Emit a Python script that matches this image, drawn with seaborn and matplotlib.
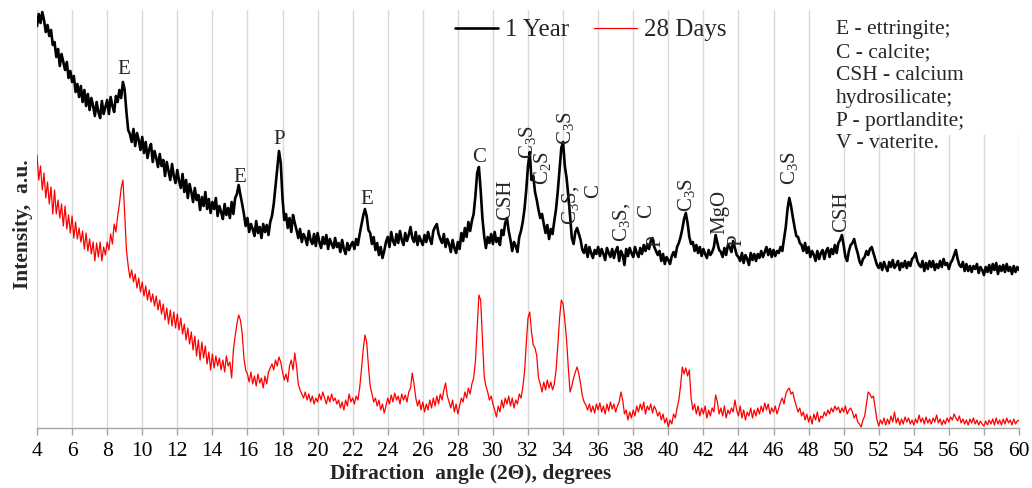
import numpy as np
import pandas as pd
import matplotlib
matplotlib.use("Agg")
import matplotlib.pyplot as plt
from matplotlib.patches import Rectangle
import seaborn as sns

# 2-theta scan grid (degrees), step 0.1
angle = np.linspace(4, 60, 561)

# 1 Year intensities (a.u.), 10 values per degree
year1_rows = [
    [402, 414, 405, 416, 408, 396, 403, 392, 398, 383],  # 4
    [386, 371, 379, 362, 374, 366, 358, 366, 350, 357],  # 5
    [346, 352, 336, 344, 331, 342, 326, 338, 322, 334],  # 6
    [318, 330, 322, 312, 326, 316, 310, 327, 314, 321],  # 7
    [328, 314, 331, 322, 316, 332, 326, 338, 330, 346],  # 8
    [338, 316, 298, 294, 286, 299, 282, 295, 288, 278],  # 9
    [291, 275, 286, 270, 279, 284, 266, 277, 270, 261],  # 10
    [274, 262, 268, 252, 266, 257, 248, 264, 252, 245],  # 11
    [258, 247, 240, 254, 236, 248, 230, 244, 236, 226],  # 12
    [240, 228, 233, 218, 231, 222, 236, 219, 229, 215],  # 13
    [226, 219, 230, 212, 222, 216, 209, 224, 213, 220],  # 14
    [210, 226, 214, 230, 234, 243, 233, 224, 214, 202],  # 15
    [210, 196, 204, 199, 192, 207, 195, 201, 190, 204],  # 16
    [196, 203, 193, 206, 212, 224, 242, 260, 277, 265],  # 17
    [230, 208, 214, 200, 210, 196, 213, 205, 198, 190],  # 18
    [199, 186, 194, 190, 183, 197, 188, 184, 194, 182],  # 19
    [195, 186, 180, 191, 184, 193, 179, 189, 184, 180],  # 20
    [190, 181, 185, 176, 188, 179, 174, 185, 178, 183],  # 21
    [186, 179, 189, 183, 194, 203, 212, 219, 212, 198],  # 22
    [195, 184, 191, 178, 185, 173, 181, 170, 177, 186],  # 23
    [191, 181, 196, 187, 183, 194, 185, 197, 188, 183],  # 24
    [195, 187, 193, 201, 190, 186, 196, 183, 192, 187],  # 25
    [183, 193, 186, 196, 189, 184, 197, 201, 204, 194],  # 26
    [189, 185, 194, 181, 189, 184, 176, 188, 180, 175],  # 27
    [186, 179, 195, 187, 200, 191, 206, 197, 207, 214],  # 28
    [232, 255, 261, 238, 210, 192, 180, 191, 185, 194],  # 29
    [184, 196, 186, 190, 183, 198, 193, 205, 210, 197],  # 30
    [188, 177, 186, 182, 176, 191, 197, 206, 219, 238],  # 31
    [262, 276, 248, 252, 236, 228, 218, 210, 214, 204],  # 32
    [195, 203, 189, 199, 194, 207, 219, 237, 259, 280],  # 33
    [286, 262, 250, 232, 212, 190, 184, 196, 200, 194],  # 34
    [188, 178, 175, 183, 171, 181, 175, 170, 178, 174],  # 35
    [181, 172, 179, 174, 168, 180, 175, 171, 179, 170],  # 36
    [177, 181, 167, 177, 173, 163, 179, 172, 180, 175],  # 37
    [171, 181, 175, 171, 180, 174, 183, 177, 184, 179],  # 38
    [187, 190, 181, 177, 173, 177, 167, 174, 164, 171],  # 39
    [168, 164, 172, 176, 171, 181, 185, 191, 199, 209],  # 40
    [215, 205, 191, 184, 186, 177, 183, 175, 181, 172],  # 41
    [179, 174, 170, 178, 173, 176, 181, 193, 185, 178],  # 42
    [176, 171, 180, 173, 183, 181, 176, 187, 180, 173],  # 43
    [171, 167, 175, 165, 173, 169, 163, 175, 168, 174],  # 44
    [167, 174, 170, 177, 171, 176, 181, 173, 179, 171],  # 45
    [178, 172, 177, 175, 181, 177, 189, 201, 219, 230],  # 46
    [222, 211, 201, 192, 191, 185, 183, 177, 185, 175],  # 47
    [181, 171, 177, 173, 167, 177, 169, 175, 178, 169],  # 48
    [177, 180, 171, 179, 174, 183, 175, 185, 188, 193],  # 49
    [183, 171, 167, 177, 183, 185, 189, 181, 175, 167],  # 50
    [163, 169, 171, 177, 173, 179, 181, 175, 169, 163],  # 51
    [160, 165, 158, 166, 161, 157, 166, 161, 168, 160],  # 52
    [163, 167, 158, 165, 161, 167, 160, 166, 162, 169],  # 53
    [171, 175, 167, 163, 161, 167, 157, 165, 159, 167],  # 54
    [161, 167, 158, 164, 160, 167, 161, 169, 163, 165],  # 55
    [159, 165, 168, 173, 178, 169, 163, 161, 166, 157],  # 56
    [164, 157, 162, 156, 162, 159, 164, 155, 161, 158],  # 57
    [153, 161, 156, 163, 155, 164, 158, 165, 154, 162],  # 58
    [157, 163, 156, 164, 157, 161, 154, 162, 156, 161],  # 59
    [158],                                               # 60
]

# 28 Days intensities (a.u.), 10 values per degree
days28_rows = [
    [273, 248, 262, 238, 255, 230, 246, 224, 241, 214],  # 4
    [238, 214, 228, 210, 224, 202, 222, 199, 213, 195],  # 5
    [212, 190, 206, 189, 200, 186, 197, 179, 195, 177],  # 6
    [189, 174, 186, 167, 185, 171, 186, 167, 181, 173],  # 7
    [186, 178, 194, 184, 204, 196, 212, 224, 240, 248],  # 8
    [215, 178, 162, 150, 158, 146, 154, 140, 150, 136],  # 9
    [146, 132, 142, 128, 138, 126, 134, 122, 132, 118],  # 10
    [128, 114, 124, 108, 120, 104, 118, 102, 116, 100],  # 11
    [114, 98, 110, 94, 104, 88, 100, 84, 96, 78],        # 12
    [92, 72, 88, 68, 86, 70, 82, 64, 76, 58],            # 13
    [74, 60, 72, 62, 70, 58, 68, 56, 72, 62],            # 14
    [66, 50, 78, 92, 104, 113, 108, 95, 70, 58],         # 15
    [54, 46, 56, 44, 52, 42, 54, 45, 50, 40],            # 16
    [52, 44, 56, 60, 64, 58, 68, 62, 71, 66],            # 17
    [56, 48, 54, 46, 62, 68, 58, 75, 62, 44],            # 18
    [38, 34, 30, 36, 28, 34, 26, 32, 24, 30],            # 19
    [26, 34, 28, 36, 30, 24, 32, 26, 34, 27],            # 20
    [30, 24, 28, 20, 26, 18, 28, 22, 34, 26],            # 21
    [30, 24, 32, 28, 40, 58, 78, 93, 86, 62],            # 22
    [42, 34, 26, 30, 22, 28, 18, 24, 15, 22],            # 23
    [30, 24, 33, 26, 35, 28, 32, 24, 34, 28],            # 24
    [33, 26, 36, 40, 55, 44, 30, 22, 28, 18],            # 25
    [26, 16, 24, 18, 28, 20, 30, 22, 32, 24],            # 26
    [34, 28, 38, 45, 32, 26, 20, 28, 16, 24],            # 27
    [14, 22, 30, 26, 36, 30, 40, 34, 44, 50],            # 28
    [66, 100, 133, 128, 90, 52, 42, 36, 28, 32],         # 29
    [24, 18, 11, 22, 16, 28, 20, 30, 24, 32],            # 30
    [22, 30, 20, 28, 24, 34, 30, 40, 56, 84],            # 31
    [110, 116, 96, 83, 80, 72, 50, 44, 36, 46],          # 32
    [38, 48, 40, 46, 38, 44, 58, 82, 110, 128],          # 33
    [124, 108, 88, 60, 36, 42, 50, 56, 61, 54],          # 34
    [44, 32, 26, 23, 18, 24, 16, 22, 15, 24],            # 35
    [18, 25, 16, 22, 14, 24, 17, 26, 19, 24],            # 36
    [16, 22, 26, 36, 28, 14, 18, 8, 16, 10],             # 37
    [18, 12, 22, 16, 24, 18, 26, 14, 22, 18],            # 38
    [24, 15, 22, 18, 12, 16, 8, 14, 5, 10],              # 39
    [1, 8, 4, 14, 10, 20, 28, 42, 61, 54],               # 40
    [60, 52, 58, 30, 18, 24, 14, 22, 12, 20],            # 41
    [14, 22, 10, 18, 12, 20, 16, 33, 26, 14],            # 42
    [20, 12, 22, 10, 18, 14, 20, 16, 28, 18],            # 43
    [12, 22, 10, 18, 8, 16, 12, 20, 10, 18],             # 44
    [12, 20, 14, 22, 16, 25, 18, 24, 14, 20],            # 45
    [16, 22, 14, 20, 26, 30, 24, 34, 38, 40],            # 46
    [34, 36, 28, 22, 16, 20, 12, 16, 8, 14],             # 47
    [6, 12, 4, 14, 8, 16, 6, 12, 10, 16],                # 48
    [12, 18, 14, 20, 16, 22, 18, 21, 15, 20],            # 49
    [16, 22, 14, 18, 20, 16, 10, 14, 6, 4],              # 50
    [1, 8, 12, 24, 36, 34, 30, 32, 20, 8],               # 51
    [2, 8, 4, 10, 3, 9, 4, 12, 6, 16],                   # 52
    [5, 10, 3, 9, 4, 11, 6, 10, 4, 8],                   # 53
    [3, 9, 5, 13, 6, 10, 4, 11, 5, 9],                   # 54
    [4, 10, 6, 13, 5, 9, 3, 8, 4, 10],                   # 55
    [6, 11, 8, 14, 10, 7, 12, 5, 9, 4],                  # 56
    [8, 3, 9, 5, 10, 4, 8, 3, 7, 4],                     # 57
    [2, 7, 3, 8, 4, 9, 3, 10, 4, 8],                     # 58
    [3, 9, 4, 10, 5, 8, 3, 9, 4, 7],                     # 59
    [8],                                                 # 60
]

year1 = [v for row in year1_rows for v in row]
days28 = [v for row in days28_rows for v in row]

series_names = ["1 Year", "28 Days"]
xticks = list(range(4, 61, 2))

# peak labels: text, angle, intensity, rotation
peak_text = ["E", "E", "P", "E", "C", "CSH", "C$_\\mathrm{3}$S", "C$_\\mathrm{2}$S",
             "C$_\\mathrm{3}$S", "C$_\\mathrm{3}$S,", "C", "C$_\\mathrm{3}$S,", "C", "P",
             "C$_\\mathrm{3}$S", "MgO", "P", "C$_\\mathrm{3}$S", "CSH"]
peak_x = [8.96, 15.57, 17.8, 22.8, 29.2, 30.74, 32.0, 32.85,
          34.15, 34.4, 35.76, 37.35, 38.78, 39.3,
          41.06, 42.94, 43.9, 46.93, 49.9]
peak_y = [358, 250, 289, 228, 271, 228, 286, 260,
          300, 223, 237, 206, 217, 187,
          233, 216, 188, 260, 216]
peak_rot = [0, 0, 0, 0, 0, 90, 90, 90, 90, 90, 90, 90, 90, 90, 90, 90, 90, 90, 90]

note = ("E - ettringite;\nC - calcite;\nCSH - calcium\nhydrosilicate;\n"
        "P - portlandite;\nV - vaterite.")

sns.set_style("white")
plt.rcParams["font.family"] = ["Liberation Serif", "DejaVu Serif"]
plt.rcParams["mathtext.fontset"] = "custom"
plt.rcParams["mathtext.rm"] = "Liberation Serif"
plt.rcParams["mathtext.it"] = "Liberation Serif:italic"
plt.rcParams["mathtext.bf"] = "Liberation Serif:bold"

df = pd.DataFrame({
    "angle": np.concatenate([angle, angle]),
    "intensity": year1 + days28,
    "series": [series_names[0]] * len(year1) + [series_names[1]] * len(days28),
})

fig = plt.figure(figsize=(10.32, 4.88), dpi=100)
ax = fig.add_axes([37 / 1032, 60 / 488, 982 / 1032, 418 / 488])

sns.lineplot(data=df, x="angle", y="intensity", hue="series",
             palette={"1 Year": "#000000", "28 Days": "#ff0000"},
             estimator=None, sort=False, ax=ax, zorder=3)
for line, lw in zip(ax.get_lines(), [1.9, 0.9]):
    line.set_linewidth(lw)

ax.set_xlim(4, 60)
ax.set_ylim(0, 418)
ax.set_xticks(xticks)
ax.set_yticks([])
ax.set_axisbelow(True)
ax.grid(axis="x", color="#d9d9d9", linewidth=1.0)
ax.grid(axis="y", visible=False)
for s in ["top", "right", "left"]:
    ax.spines[s].set_visible(False)
ax.spines["bottom"].set_color("#a6a6a6")
ax.spines["bottom"].set_linewidth(1.0)
ax.tick_params(axis="x", direction="out", length=5, width=1.0, color="#a6a6a6",
               pad=5, labelsize=15.5, labelcolor="black", bottom=True)

# white box behind the abbreviation note
ax.add_patch(Rectangle((0.81, 0.70), 0.20, 0.31, transform=ax.transAxes,
                       facecolor="white", edgecolor="none", zorder=1, clip_on=False))
ax.text(0.8136, 0.975, note, transform=ax.transAxes, ha="left", va="top",
        fontsize=15.5, linespacing=1.27, zorder=4)

for t, x, y, r in zip(peak_text, peak_x, peak_y, peak_rot):
    ax.text(x, y, t, rotation=r, ha="center", va="center", fontsize=15, zorder=4)

ax.set_xlabel("Difraction  angle (2\u0398), degrees", fontsize=15.5, fontweight="bold")
ax.xaxis.set_label_coords(0.442, -0.085)
ax.set_ylabel("Intensity,  a.u.", fontsize=15.5, fontweight="bold")
ax.yaxis.set_label_coords(-0.004, 0.488)

leg = ax.legend(loc="center", bbox_to_anchor=(0.564, 0.952), ncol=2, frameon=False,
                fontsize=18, handlelength=1.7, handletextpad=0.3, columnspacing=1.0)
for h, lw in zip(leg.get_lines(), [1.9, 0.9]):
    h.set_linewidth(lw)

fig.savefig("out.png", dpi=100)
